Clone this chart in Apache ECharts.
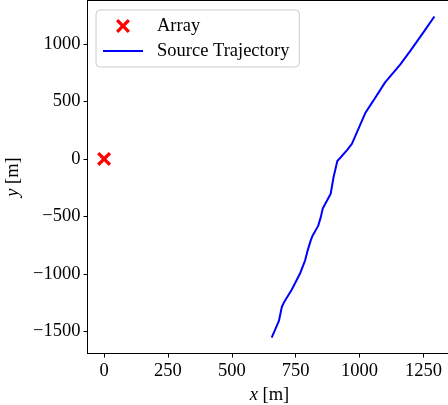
<!DOCTYPE html>
<html>
<head>
<meta charset="utf-8">
<script src="https://cdn.jsdelivr.net/npm/echarts@6.0.0/dist/echarts.min.js"></script>
<style>
	html, body { margin: 0; padding: 0; background: #fff; }
	#traj { width: 448px; height: 405px; }
</style>
</head>
<body>
<div id="traj"></div>
<script>
// 阵列位置
var arrayX = [0];
var arrayY = [0];

// 声源轨迹 (m)
var trajX = [656, 684, 696, 705, 735, 767, 787, 797, 809, 815, 838, 848, 856, 887, 898, 913, 924, 951, 970, 1022, 1054, 1100, 1159, 1198, 1250, 1293];
var trajY = [-1555, -1413, -1287, -1245, -1137, -998, -883, -796, -709, -674, -583, -509, -431, -303, -162, -18, 8, 77, 131, 397, 507, 666, 820, 938, 1101, 1240];

// 刻度
var xTicks = [0, 250, 500, 750, 1000, 1250];
var yTicks = [-1500, -1000, -500, 0, 500, 1000];

var serif = '"Liberation Serif", "DejaVu Serif", serif';
var fs = 18.5;
var crossIcon = 'path://M0,2 L2,0 L6,4 L10,0 L12,2 L8,6 L12,10 L10,12 L6,8 L2,12 L0,10 L4,6 Z';
var lineIcon = 'path://M0,0 L40,0 L40,2 L0,2 Z';

function fmt(v) {
	return v < 0 ? '\u2212' + Math.abs(v) : String(v);
}

var e = echarts.init(document.getElementById("traj")),
	a = {
		animation: false,
		grid: {
			left: 87.5,
			top: 0.5,
			width: 364,
			height: 353,
			outerBoundsMode: 'none',
			containLabel: false,
			show: true,
			borderColor: '#000',
			borderWidth: 1
		},
		legend: {
			orient: 'vertical',
			left: 96,
			top: 10,
			padding: [6, 10, 6, 7],
			itemWidth: 40,
			itemHeight: 14,
			itemGap: 5,
			backgroundColor: 'rgba(255,255,255,0.8)',
			borderColor: '#cccccc',
			borderWidth: 1,
			borderRadius: 4,
			textStyle: {
				fontFamily: serif,
				fontSize: fs,
				lineHeight: 20,
				color: '#000',
				rich: { s: { width: 9 } }
			},
			formatter: function(n) { return '{s|}' + n; },
			data: [
				{ name: 'Array', icon: crossIcon },
				{ name: 'Source Trajectory', icon: lineIcon }
			]
		},
		xAxis: {
			type: 'value',
			min: -65,
			max: 1360,
			name: '{i|x} [m]',
			nameLocation: 'middle',
			nameGap: 22,
			nameTextStyle: {
				fontFamily: serif, fontSize: fs, color: '#000',
				rich: { i: { fontFamily: serif, fontSize: fs, fontStyle: 'italic' } }
			},
			axisLine: { onZero: false, lineStyle: { color: '#000', width: 1 } },
			axisTick: { length: 4, lineStyle: { color: '#000' }, customValues: xTicks },
			axisLabel: { customValues: xTicks, formatter: fmt, margin: 8, color: '#000', fontFamily: serif, fontSize: fs },
			splitLine: { show: false }
		},
		yAxis: {
			type: 'value',
			min: -1694,
			max: 1379,
			name: '{i|y} [m]',
			nameLocation: 'middle',
			nameGap: 62,
			nameRotate: 90,
			nameTextStyle: {
				fontFamily: serif, fontSize: fs, color: '#000',
				rich: { i: { fontFamily: serif, fontSize: fs, fontStyle: 'italic' } }
			},
			axisLine: { show: true, onZero: false, lineStyle: { color: '#000', width: 1 } },
			axisTick: { show: true, length: 4, lineStyle: { color: '#000' }, customValues: yTicks },
			axisLabel: { customValues: yTicks, formatter: fmt, margin: 7, color: '#000', fontFamily: serif, fontSize: fs },
			splitLine: { show: false }
		},
		series: [
			{
				name: 'Array',
				type: 'scatter',
				symbol: crossIcon,
				symbolSize: 14,
				itemStyle: { color: '#ff0000', opacity: 1 },
				data: arrayX.map(function(x, i) { return [x, arrayY[i]]; }),
				z: 3
			},
			{
				name: 'Source Trajectory',
				type: 'line',
				showSymbol: false,
				symbol: 'none',
				lineStyle: { color: '#0000ff', width: 2 },
				itemStyle: { color: '#0000ff' },
				data: trajX.map(function(x, i) { return [x, trajY[i]]; })
			}
		]
	};
e.setOption(a);
</script>
</body>
</html>
